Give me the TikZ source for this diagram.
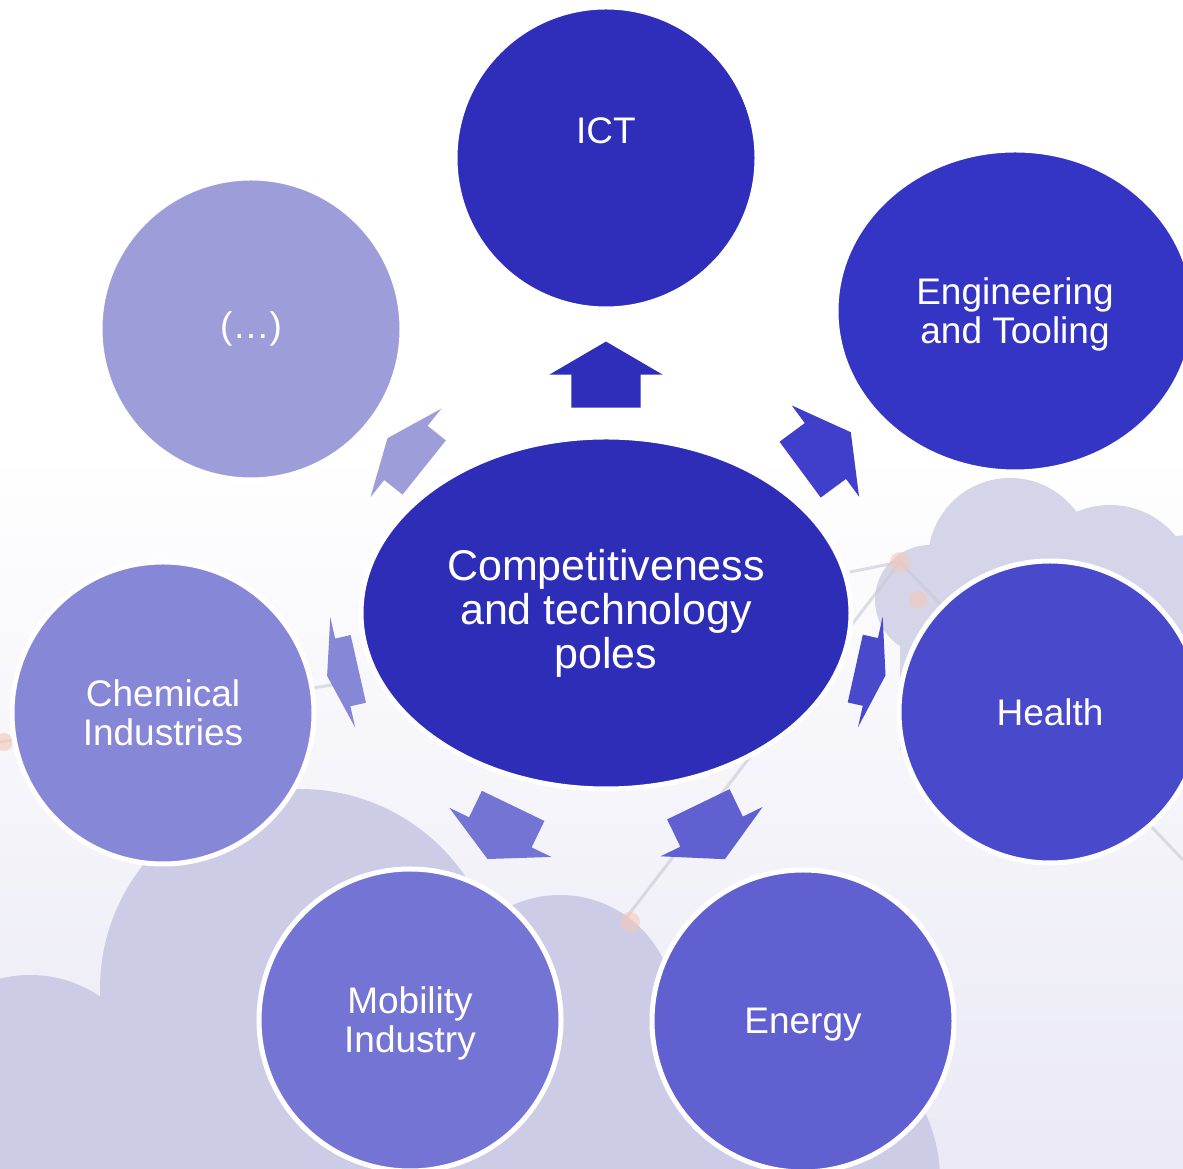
\documentclass[tikz,border=0pt]{standalone}
\usepackage{fontspec}
\setmainfont{Liberation Sans}
\usetikzlibrary{shapes.geometric,shapes.arrows}

\definecolor{hubcol}{RGB}{46,45,183}
\definecolor{ictcol}{RGB}{46,46,186}
\definecolor{engcol}{RGB}{52,52,197}
\definecolor{engarrow}{RGB}{63,63,203}
\definecolor{healthcol}{RGB}{73,73,203}
\definecolor{energycol}{RGB}{96,96,208}
\definecolor{mobcol}{RGB}{116,116,213}
\definecolor{chemcol}{RGB}{135,135,216}
\definecolor{etccol}{RGB}{157,157,218}
\definecolor{bgbottom}{RGB}{234,233,245}
\definecolor{cloudcol}{RGB}{204,204,230}
\definecolor{cloudright}{RGB}{213,213,233}
\definecolor{chartline}{RGB}{200,200,210}
\definecolor{chartdot}{RGB}{246,200,184}

\begin{document}
\begin{tikzpicture}[x=1pt,y=1pt,
    pole/.style={ellipse, draw=white, line width=5pt, inner sep=0pt, text=white,
      align=center, font=\fontsize{37}{39}\selectfont,
      minimum width=302pt, minimum height=302pt},
    polearrow/.style={single arrow, draw=none, inner xsep=0pt, inner ysep=34.5pt,
      minimum width=113pt, single arrow head extend=22pt, minimum height=#1pt,
      single arrow tip angle={2*atan(113/#1)}, sloped, allow upside down, anchor=tip}]

  % page and background
  \path[use as bounding box, clip] (0,0) rectangle (1183,1169);
  \fill[white] (0,0) rectangle (1183,1169);
  \shade[top color=white, bottom color=bgbottom] (0,0) rectangle (1183,720);
  \fill[cloudright] (1010,609) circle (82);
  \fill[cloudright] (1110,579) circle (85);
  \fill[cloudright] (1190,549) circle (85);
  \fill[cloudright] (930,569) circle (55);
  \fill[cloudright] (900,419) rectangle (1183,589);
  \fill[cloudcol] (300,180) circle (200);
  \fill[cloudcol] (30,69) circle (125);
  \fill[cloudcol] (560,159) circle (115);
  \fill[cloudcol] (780,-11) circle (160);
  \fill[cloudcol] (0,0) rectangle (800,120);
  \draw[chartline, line width=3pt, opacity=0.6]
    (626,251) -- (900,607) -- (1183,309)
    (850,597) -- (900,607)
    (0,427) -- (360,489);
  \fill[chartdot, opacity=0.6] (630,247) circle (10) (900,607) circle (10)
    (918,569) circle (9) (4,427) circle (9);

  % poles
  \node[pole, fill=hubcol, minimum width=490pt, minimum height=352pt,
    font=\fontsize{43}{44}\selectfont] (hub) at (606,556)
    {Competitiveness\\and technology\\poles};
  \node[pole, fill=ictcol, text height=27pt, text depth=56pt] (ict) at (606,1011) {ICT};
  \node[pole, fill=engcol, minimum width=358pt, minimum height=322pt, text depth=0pt]
    (eng) at (1015,858) {Engineering\\and Tooling};
  \node[pole, fill=healthcol] (health) at (1050,457) {Health};
  \node[pole, fill=energycol, text depth=0pt] (energy) at (803,148) {Energy};
  \node[pole, fill=mobcol, text depth=0pt] (mob) at (410,149) {Mobility\\Industry};
  \node[pole, fill=chemcol] (chem) at (163,456) {Chemical\\Industries};
  \node[pole, fill=etccol] (etc) at (251,840) {(…)};

  % arrows out of the hub
  \path (hub.center) -- (ict.center) node[polearrow=66, pos=0.597, fill=ictcol] (a-ict) {};
  \path (hub.center) -- (eng.center) node[polearrow=63, pos=0.599, fill=engarrow] (a-eng) {};
  \path (hub.center) -- (health.center) node[polearrow=31, pos=0.630, fill=healthcol] (a-health) {};
  \path (hub.center) -- (energy.center) node[polearrow=61, pos=0.604, fill=energycol] (a-energy) {};
  \path (hub.center) -- (mob.center) node[polearrow=59, pos=0.605, fill=mobcol] (a-mob) {};
  \path (hub.center) -- (chem.center) node[polearrow=32, pos=0.630, fill=chemcol] (a-chem) {};
  \path (hub.center) -- (etc.center) node[polearrow=47, pos=0.616, fill=etccol] (a-etc) {};
\end{tikzpicture}
\end{document}
